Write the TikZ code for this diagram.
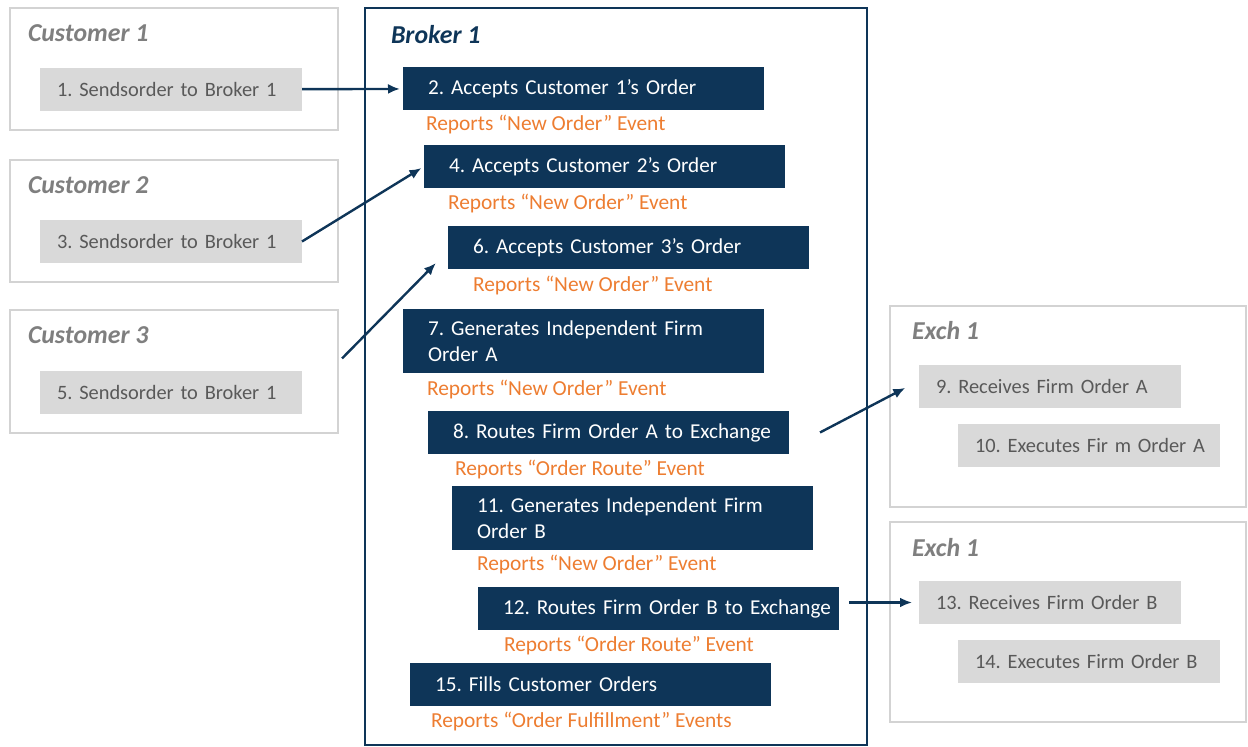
\documentclass[tikz,border=0pt]{standalone}
\usepackage{fontspec}
\setmainfont{Carlito}
\frenchspacing
\usetikzlibrary{arrows.meta,positioning,calc}
\definecolor{navy}{HTML}{0E3558}
\definecolor{boxline}{HTML}{D3D3D3}
\definecolor{stepfill}{HTML}{D9D9D9}
\definecolor{steptext}{HTML}{595959}
\definecolor{titlegray}{HTML}{7F7F7F}
\definecolor{report}{HTML}{ED7D31}

\begin{document}
\begin{tikzpicture}[x=0.5pt,y=-0.5pt,
	every node/.style={inner sep=0pt, outer sep=0pt},
	party/.style={draw=boxline, line width=1pt, minimum width=#1, anchor=north west},
	title/.style={anchor=west, font=\fontsize{12.9}{15}\selectfont\bfseries\itshape, text=titlegray},
	graystep/.style={fill=stepfill, text=steptext, anchor=north west, align=left,
		text width=131pt, minimum height=21.5pt, execute at begin node={\leftskip=8.5pt\relax},
		font=\fontsize{10.2}{13}\selectfont},
	navystep/.style={fill=navy, text=white, anchor=north west, align=left,
		text width=180.5pt, minimum height=21.5pt, execute at begin node={\leftskip=12.5pt\relax},
		font=\fontsize{10.6}{13}\selectfont},
	reportlabel/.style={anchor=west, text=report, font=\fontsize{10.7}{13}\selectfont},
	flow/.style={draw=navy, line width=1.2pt, -{Latex[length=6pt,width=5pt]}, shorten >=1.5pt}]
	\useasboundingbox (0,0) rectangle (1248,747);

	% customers
	\node[party=164pt, minimum height=61pt] (cust1) at (10,8) {};
	\node[party=164pt, minimum height=61pt] (cust2) at (10,160) {};
	\node[party=164pt, minimum height=61.5pt] (cust3) at (10,310) {};
	\node[title] at (28,33) {Customer 1};
	\node[title] at (28,185) {Customer 2};
	\node[title] at (28,335) {Customer 3};
	\node[graystep] (s1) at (40,68) {1. Sendsorder to Broker 1};
	\node[graystep] (s3) at (40,220) {3. Sendsorder to Broker 1};
	\node[graystep] (s5) at (40,371) {5. Sendsorder to Broker 1};

	% broker
	\node[draw=navy, line width=1pt, anchor=north west, minimum width=251pt, minimum height=368.5pt] (broker) at (365,8) {};
	\node[title, text=navy] at (391,35) {Broker 1};
	\node[navystep] (b2) at (403,67) {2. Accepts Customer 1's Order};
	\node[reportlabel] at (426,125) {Reports “New Order” Event};
	\node[navystep] (b4) at (424,145) {4. Accepts Customer 2's Order};
	\node[reportlabel] at (448,204) {Reports “New Order” Event};
	\node[navystep] (b6) at (448,226) {6. Accepts Customer 3's Order};
	\node[reportlabel] at (473,286) {Reports “New Order” Event};
	\node[navystep, minimum height=32pt] (b7) at (403,309) {7. Generates Independent Firm\\Order A};
	\node[reportlabel] at (427,390) {Reports “New Order” Event};
	\node[navystep] (b8) at (428,411) {8. Routes Firm Order A to Exchange};
	\node[reportlabel] at (455,470) {Reports “Order Route” Event};
	\node[navystep, minimum height=32pt] (b11) at (452,486) {11. Generates Independent Firm\\Order B};
	\node[reportlabel] at (477,565) {Reports “New Order” Event};
	\node[navystep] (b12) at (478,587) {12. Routes Firm Order B to Exchange};
	\node[reportlabel] at (504,646) {Reports “Order Route” Event};
	\node[navystep] (b15) at (410,663) {15. Fills Customer Orders};
	\node[reportlabel] at (431,722) {Reports “Order Fulfillment” Events};

	% exchanges
	\node[party=178pt, minimum height=100.5pt] (exA) at (890,306) {};
	\node[party=178pt, minimum height=100pt] (exB) at (890,522) {};
	\node[title] at (912,331) {Exch 1};
	\node[title] at (912,548) {Exch 1};
	\node[graystep] (e9) at (919,365) {9. Receives Firm Order A};
	\node[graystep] (e10) at (958,424) {10. Executes Fir m Order A};
	\node[graystep] (e13) at (919,581) {13. Receives Firm Order B};
	\node[graystep] (e14) at (958,640) {14. Executes Firm Order B};

	% order flow
	\draw[flow] (s1) -- (b2);
	\draw[flow] (s3.east) -- (b4.west);
	\draw[flow] ([xshift=2pt,yshift=6.5pt]cust3.east) -- ([xshift=-5pt,yshift=4pt]b6.south west);
	\draw[flow] ([xshift=15.5pt]b8.east) -- ([xshift=-5.5pt]e9.west);
	\draw[flow, shorten >=3.5pt] ($(b12.east |- e13.west)+(10,0)$) -- (e13.west);
\end{tikzpicture}
\end{document}
